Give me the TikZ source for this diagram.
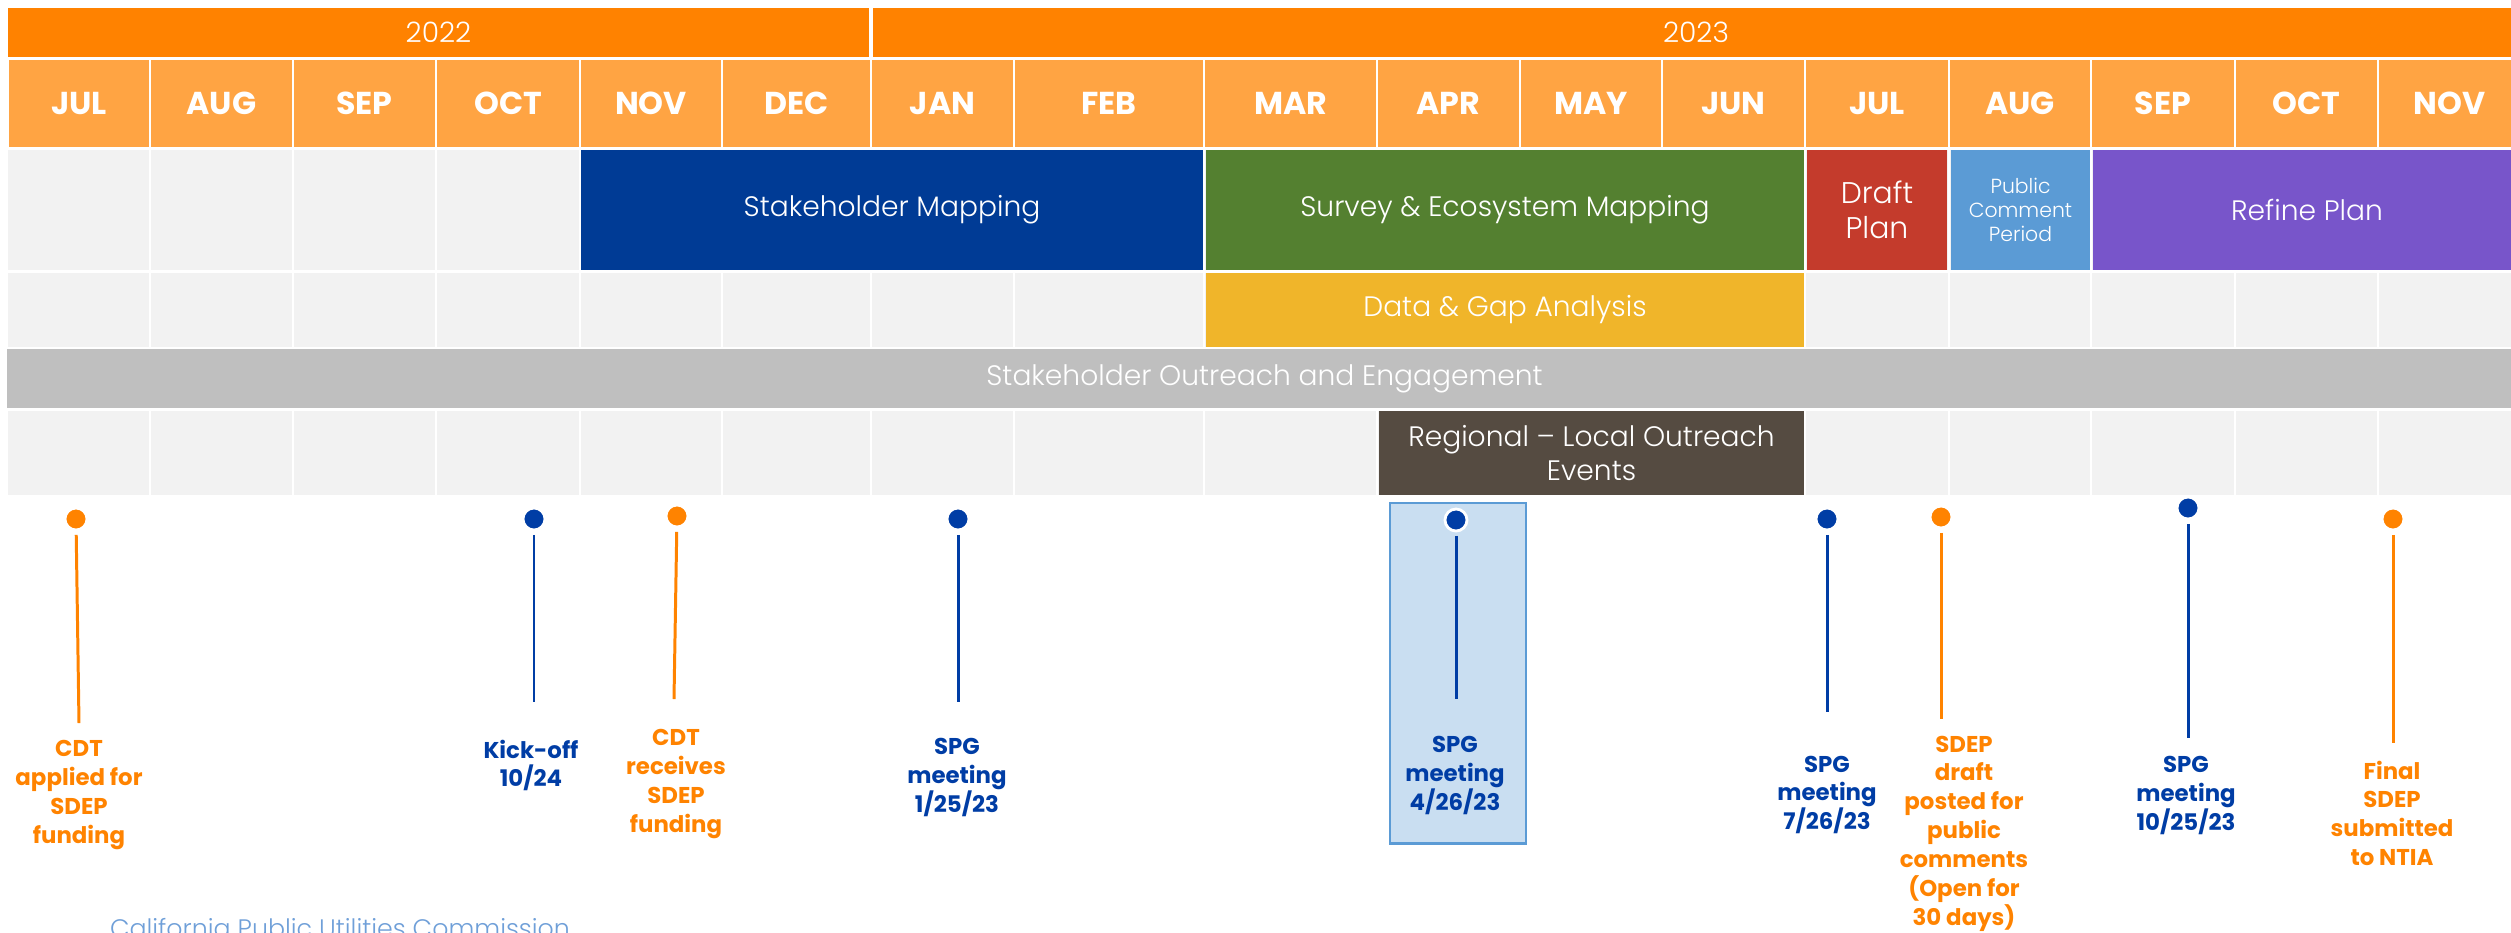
\documentclass[tikz,border=0pt]{standalone}
\usepackage{fontspec}
\setmainfont{Poppins}
\IfFontExistsTF{Poppins Light}{\newfontfamily\lightfont{Poppins Light}}{\newcommand\lightfont{}}
\usetikzlibrary{positioning}

\definecolor{yearorange}{HTML}{FF8200}
\definecolor{monthorange}{HTML}{FFA443}
\definecolor{cellgray}{HTML}{F2F2F2}
\definecolor{smblue}{HTML}{003B95}
\definecolor{surveygreen}{HTML}{548030}
\definecolor{draftred}{HTML}{C43B2C}
\definecolor{pubblue}{HTML}{5B9BD5}
\definecolor{refinepurple}{HTML}{7855CA}
\definecolor{datayellow}{HTML}{F0B52A}
\definecolor{outgray}{HTML}{BFBFBF}
\definecolor{regbrown}{HTML}{554B41}
\definecolor{mileblue}{HTML}{003DA5}
\definecolor{mileorange}{HTML}{FF8300}
\definecolor{hlfill}{HTML}{C9DEF1}
\definecolor{hlborder}{HTML}{5B9BD5}
\definecolor{footblue}{HTML}{6F9FD8}

\begin{document}
\begin{tikzpicture}[x=0.01cm, y=-0.01cm,
  year/.style={rectangle, inner sep=0, fill=yearorange, text=white, minimum height=0.49cm, font=\fontsize{8}{9}\selectfont\lightfont},
  month/.style={rectangle, inner sep=0, fill=monthorange, text=white, minimum height=0.87cm, font=\fontsize{9}{10}\selectfont\bfseries},
  bar/.style={rectangle, inner sep=0, text=white, align=center, font=\fontsize{8}{10}\selectfont\lightfont},
  dot/.style={circle, inner sep=0, minimum size=0.22cm, draw=white, line width=0.8pt},
  stem/.style={line width=0.85pt, shorten <=1pt},
  mlabel/.style={anchor=north, inner sep=0, align=center, font=\fontsize{6.5}{8.2}\selectfont\bfseries}]

\useasboundingbox (0,0) rectangle (2511,932);

\node [year, minimum width=8.61cm] (y2022) at (438.5,32.5) {2022};
\node [year, minimum width=16.46cm] (y2023) at (1696,32.5) {2023};

\foreach \l/\a/\b [count=\i] in {JUL/8/150, AUG/150/293, SEP/293/436, OCT/436/580,
    NOV/580/722, DEC/722/871, JAN/871/1014, FEB/1014/1204, MAR/1204/1377, APR/1377/1520,
    MAY/1520/1662, JUN/1662/1805, JUL/1805/1949, AUG/1949/2091, SEP/2091/2235,
    OCT/2235/2378, NOV/2378/2521}
{
  \pgfmathsetmacro\w{(\b-\a-3)/100}
  \node [month, minimum width=\w cm] (mon-\i) at ({(\a+\b)/2},103.5) {\l};
}

\foreach \t/\b in {150/270, 273/347, 411/495}
  \fill [cellgray] (8,\t) rectangle (2521,\b);
\foreach \x in {150,293,436,580,722,871,1014,1204,1377,1520,1662,1805,1949,2091,2235,2378}
  \draw [white, line width=0.7pt] (\x,150) -- (\x,495);

\node [bar, fill=smblue, minimum width=6.22cm, minimum height=1.2cm] (smap) at (892,210) {Stakeholder Mapping};
\node [bar, fill=surveygreen, minimum width=5.98cm, minimum height=1.2cm] (survey) at (1505,210) {Survey \& Ecosystem Mapping};
\node [bar, fill=draftred, minimum width=1.4cm, minimum height=1.2cm, font=\fontsize{8.5}{10}\selectfont\lightfont] (draft) at (1877,210) {Draft\\Plan};
\node [bar, fill=pubblue, minimum width=1.39cm, minimum height=1.2cm, font=\fontsize{5.8}{6.9}\selectfont\lightfont] (public) at (2020.5,210) {Public\\Comment\\Period};
\node [bar, fill=refinepurple, minimum width=4.28cm, minimum height=1.2cm] (refine) at (2307,210) {Refine Plan};
\node [bar, fill=datayellow, minimum width=5.98cm, minimum height=0.74cm] (gap) at (1505,310) {Data \& Gap Analysis};
\node [bar, fill=outgray, minimum width=25.13cm, minimum height=0.59cm] (outreach) at (1264.5,378.5) {Stakeholder Outreach and Engagement};
\node [bar, fill=regbrown, minimum width=4.25cm, minimum height=0.84cm, font=\fontsize{8}{9.4}\selectfont\lightfont] (regional) at (1591.5,453) {Regional \textendash{} Local Outreach\\Events};

\node [rectangle, inner sep=0, fill=hlfill, draw=hlborder, line width=0.8pt,
  minimum width=1.36cm, minimum height=3.4cm] (hilite) at (1458,673) {};

\foreach \dx/\dy/\ex/\ey/\lx/\ly/\c/\t [count=\i] in {
    76/519/79/723/79/740/mileorange/{CDT\\applied for\\SDEP\\funding},
    534/519/534/702/531/739/mileblue/{Kick-off\\10/24},
    677/516/674/699/676/729/mileorange/{CDT\\receives\\SDEP\\funding},
    958/519/958/702/957/738/mileblue/{SPG\\meeting\\1/25/23},
    1456/520/1456/699/1455/736/mileblue/{SPG\\meeting\\4/26/23},
    1827/519/1827/712/1827/755/mileblue/{SPG\\meeting\\7/26/23},
    1941/517/1941/719/1964/735/mileorange/{SDEP\\draft\\posted for\\public\\comments\\(Open for\\30 days)},
    2188/508/2188/738/2186/756/mileblue/{SPG\\meeting\\10/25/23},
    2393/519/2393/743/2392/760/mileorange/{Final\\SDEP\\submitted\\to NTIA}}
{
  \node [dot, fill=\c] (ms-\i) at (\dx,\dy) {};
  \coordinate (end-\i) at (\ex,\ey);
  \draw [stem, draw=\c] (ms-\i) -- (end-\i);
  \node [mlabel, text=\c] (lab-\i) at (\lx,\ly) {\t};
}

\node [anchor=base, inner sep=0, text=footblue, font=\fontsize{7.2}{8}\selectfont\lightfont] (footer) at (340,937) {California Public Utilities Commission};

\end{tikzpicture}
\end{document}
